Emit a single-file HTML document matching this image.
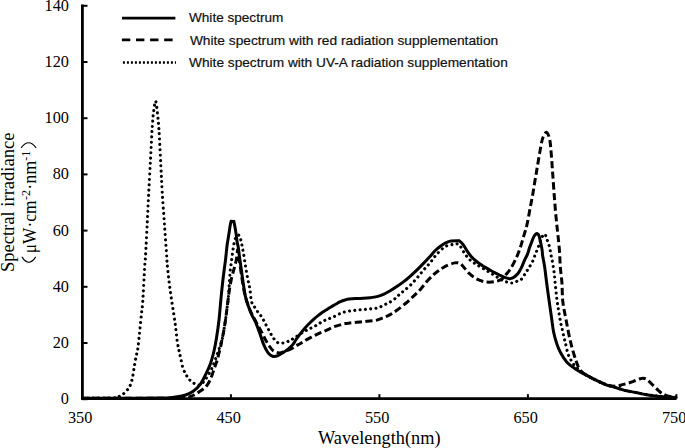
<!DOCTYPE html>
<html><head><meta charset="utf-8"><style>
html,body{margin:0;padding:0;background:#fff;width:685px;height:448px;overflow:hidden}
svg{display:block}
</style></head><body>
<svg width="685" height="448" viewBox="0 0 685 448">
<path d="M82.40,398.20 C88.67,398.20 107.07,398.22 120.00,398.20 C132.93,398.18 151.03,398.25 160.00,398.10 C168.97,397.95 169.65,397.77 173.80,397.30 C177.95,396.83 181.67,396.32 184.90,395.30 C188.13,394.28 190.67,392.98 193.20,391.20 C195.73,389.42 198.03,387.37 200.10,384.60 C202.17,381.83 203.87,378.12 205.60,374.60 C207.33,371.08 209.10,367.43 210.50,363.50 C211.90,359.57 213.00,355.25 214.00,351.00 C215.00,346.75 215.67,343.17 216.50,338.00 C217.33,332.83 218.25,326.62 219.00,320.00 C219.75,313.38 220.33,305.10 221.00,298.30 C221.67,291.50 222.23,285.73 223.00,279.20 C223.77,272.67 224.93,264.63 225.60,259.10 C226.27,253.57 226.58,249.35 227.00,246.00 C227.42,242.65 227.73,241.35 228.10,239.00 C228.47,236.65 228.83,234.28 229.20,231.90 C229.57,229.52 229.97,226.47 230.30,224.70 C230.63,222.93 231.20,221.30 231.20,221.30 C231.20,221.30 233.80,221.50 233.80,221.50 C233.80,221.50 234.40,223.82 234.80,226.00 C235.20,228.18 235.80,231.83 236.20,234.60 C236.60,237.37 236.87,240.57 237.20,242.60 C237.53,244.63 237.82,244.42 238.20,246.80 C238.58,249.18 239.10,253.95 239.50,256.90 C239.90,259.85 240.22,261.78 240.60,264.50 C240.98,267.22 241.30,269.67 241.80,273.20 C242.30,276.73 243.00,281.83 243.60,285.70 C244.20,289.57 244.65,293.12 245.40,296.40 C246.15,299.68 247.07,302.42 248.10,305.40 C249.13,308.38 250.42,311.63 251.60,314.30 C252.78,316.97 254.15,319.08 255.20,321.40 C256.25,323.72 257.05,325.97 257.90,328.20 C258.75,330.43 259.32,332.02 260.30,334.80 C261.28,337.58 262.50,341.90 263.80,344.90 C265.10,347.90 266.65,350.92 268.10,352.80 C269.55,354.68 270.93,355.70 272.50,356.20 C274.07,356.70 275.82,356.35 277.50,355.80 C279.18,355.25 280.90,353.98 282.60,352.90 C284.30,351.82 286.00,350.68 287.70,349.30 C289.40,347.92 291.42,346.22 292.80,344.60 C294.18,342.98 294.80,341.33 296.00,339.60 C297.20,337.87 298.57,336.07 300.00,334.20 C301.43,332.33 303.10,330.15 304.60,328.40 C306.10,326.65 307.50,325.22 309.00,323.70 C310.50,322.18 312.10,320.65 313.60,319.30 C315.10,317.95 316.52,316.77 318.00,315.60 C319.48,314.43 321.00,313.33 322.50,312.30 C324.00,311.27 325.52,310.33 327.00,309.40 C328.48,308.47 329.90,307.60 331.40,306.70 C332.90,305.80 334.50,304.83 336.00,304.00 C337.50,303.17 338.90,302.37 340.40,301.70 C341.90,301.03 343.52,300.45 345.00,300.00 C346.48,299.55 347.35,299.25 349.30,299.00 C351.25,298.75 354.35,298.62 356.70,298.50 C359.05,298.38 361.17,298.43 363.40,298.30 C365.63,298.17 367.87,297.98 370.10,297.70 C372.33,297.42 374.57,297.17 376.80,296.60 C379.03,296.03 381.27,295.27 383.50,294.30 C385.73,293.33 387.98,292.08 390.20,290.80 C392.42,289.52 394.60,288.08 396.80,286.60 C399.00,285.12 401.18,283.62 403.40,281.90 C405.62,280.18 407.87,278.27 410.10,276.30 C412.33,274.33 414.57,272.25 416.80,270.10 C419.03,267.95 421.27,265.70 423.50,263.40 C425.73,261.10 428.28,258.40 430.20,256.30 C432.12,254.20 433.30,252.47 435.00,250.80 C436.70,249.13 438.62,247.62 440.40,246.30 C442.18,244.98 443.92,243.78 445.70,242.90 C447.48,242.02 448.87,241.37 451.10,241.00 C453.33,240.63 459.10,240.70 459.10,240.70 C459.10,240.70 461.85,242.95 463.20,244.70 C464.55,246.45 465.87,249.23 467.20,251.20 C468.53,253.17 469.63,254.78 471.20,256.50 C472.77,258.22 474.82,260.03 476.60,261.50 C478.38,262.97 480.50,264.35 481.90,265.30 C483.30,266.25 483.45,266.28 485.00,267.20 C486.55,268.12 489.25,269.73 491.20,270.80 C493.15,271.87 494.85,272.67 496.70,273.60 C498.55,274.53 500.43,275.60 502.30,276.40 C504.17,277.20 506.50,278.03 507.90,278.40 C509.30,278.77 509.77,278.75 510.70,278.60 C511.63,278.45 512.28,278.35 513.50,277.50 C514.72,276.65 516.70,275.10 518.00,273.50 C519.30,271.90 520.20,270.13 521.30,267.90 C522.40,265.67 523.57,262.40 524.60,260.10 C525.63,257.80 526.70,256.10 527.50,254.10 C528.30,252.10 528.75,250.00 529.40,248.10 C530.05,246.20 530.70,244.52 531.40,242.70 C532.10,240.88 532.92,238.58 533.60,237.20 C534.28,235.82 534.88,235.00 535.50,234.40 C536.12,233.80 536.72,233.37 537.30,233.60 C537.88,233.83 538.43,234.28 539.00,235.80 C539.57,237.32 540.20,240.43 540.70,242.70 C541.20,244.97 541.67,247.18 542.00,249.40 C542.33,251.62 542.27,253.15 542.70,256.00 C543.13,258.85 543.95,262.08 544.60,266.50 C545.25,270.92 545.95,277.50 546.60,282.50 C547.25,287.50 547.68,290.67 548.50,296.50 C549.32,302.33 550.65,311.58 551.50,317.50 C552.35,323.42 552.73,327.68 553.60,332.00 C554.47,336.32 555.53,339.93 556.70,343.40 C557.87,346.87 558.90,349.67 560.60,352.80 C562.30,355.93 564.55,359.60 566.90,362.20 C569.25,364.80 571.85,366.45 574.70,368.40 C577.55,370.35 580.88,372.17 584.00,373.90 C587.12,375.63 589.70,376.98 593.40,378.80 C597.10,380.62 603.03,383.50 606.20,384.80 C609.37,386.10 610.33,385.98 612.40,386.60 C614.47,387.22 616.53,387.87 618.60,388.50 C620.67,389.13 622.73,389.88 624.80,390.40 C626.87,390.92 628.93,391.20 631.00,391.60 C633.07,392.00 635.13,392.38 637.20,392.80 C639.27,393.22 641.33,393.70 643.40,394.10 C645.47,394.50 647.53,394.88 649.60,395.20 C651.67,395.52 653.73,395.75 655.80,396.00 C657.87,396.25 659.93,396.50 662.00,396.70 C664.07,396.90 665.87,397.08 668.20,397.20 C670.53,397.32 674.70,397.37 676.00,397.40" fill="none" stroke="#000" stroke-width="3" stroke-linejoin="miter" stroke-miterlimit="3" stroke-linecap="round"/>
<path d="M82.40,398.20 C95.33,398.20 142.73,398.22 160.00,398.20 C177.27,398.18 181.05,398.33 186.00,398.10 C190.95,397.87 188.38,397.32 189.70,396.80 C191.02,396.28 192.52,395.70 193.90,395.00 C195.28,394.30 196.73,393.38 198.00,392.60 C199.27,391.82 200.33,391.15 201.50,390.30 C202.67,389.45 203.97,388.50 205.00,387.50 C206.03,386.50 206.90,385.47 207.70,384.30 C208.50,383.13 209.10,381.97 209.80,380.50 C210.50,379.03 211.23,377.25 211.90,375.50 C212.57,373.75 213.20,371.75 213.80,370.00 C214.40,368.25 214.90,366.75 215.50,365.00 C216.10,363.25 216.82,361.50 217.40,359.50 C217.98,357.50 218.47,355.08 219.00,353.00 C219.53,350.92 220.13,349.08 220.60,347.00 C221.07,344.92 221.30,343.05 221.80,340.50 C222.30,337.95 223.00,334.98 223.60,331.70 C224.20,328.42 224.87,324.42 225.40,320.80 C225.93,317.18 226.33,313.63 226.80,310.00 C227.27,306.37 227.73,302.58 228.20,299.00 C228.67,295.42 229.02,292.07 229.60,288.50 C230.18,284.93 230.92,281.03 231.70,277.60 C232.48,274.17 233.52,270.92 234.30,267.90 C235.08,264.88 235.85,262.48 236.40,259.50 C236.95,256.52 237.23,251.25 237.60,250.00 C237.97,248.75 238.27,250.00 238.60,252.00 C238.93,254.00 238.62,255.18 239.60,262.00 C240.58,268.82 242.77,284.90 244.50,292.90 C246.23,300.90 248.25,305.48 250.00,310.00 C251.75,314.52 253.47,317.05 255.00,320.00 C256.53,322.95 257.87,325.23 259.20,327.70 C260.53,330.17 261.88,332.65 263.00,334.80 C264.12,336.95 264.80,338.67 265.90,340.60 C267.00,342.53 268.38,344.72 269.60,346.40 C270.82,348.08 271.63,349.62 273.20,350.70 C274.77,351.78 277.07,352.78 279.00,352.90 C280.93,353.02 282.63,352.15 284.80,351.40 C286.97,350.65 289.83,349.48 292.00,348.40 C294.17,347.32 296.25,345.80 297.80,344.90 C299.35,344.00 299.82,343.88 301.30,343.00 C302.78,342.12 304.68,340.73 306.70,339.60 C308.72,338.47 311.17,337.32 313.40,336.20 C315.63,335.08 317.87,333.90 320.10,332.90 C322.33,331.90 324.57,331.20 326.80,330.20 C329.03,329.20 331.27,327.78 333.50,326.90 C335.73,326.02 338.20,325.47 340.20,324.90 C342.20,324.33 343.87,323.82 345.50,323.50 C347.13,323.18 348.13,323.20 350.00,323.00 C351.87,322.80 354.47,322.53 356.70,322.30 C358.93,322.07 361.17,321.83 363.40,321.60 C365.63,321.37 367.87,321.15 370.10,320.90 C372.33,320.65 374.57,320.65 376.80,320.10 C379.03,319.55 381.27,318.52 383.50,317.60 C385.73,316.68 387.97,315.83 390.20,314.60 C392.43,313.37 394.25,312.13 396.90,310.20 C399.55,308.27 403.23,305.43 406.10,303.00 C408.97,300.57 411.65,297.95 414.10,295.60 C416.55,293.25 418.57,291.37 420.80,288.90 C423.03,286.43 425.27,283.27 427.50,280.80 C429.73,278.33 432.18,275.88 434.20,274.10 C436.22,272.32 437.68,271.43 439.60,270.10 C441.52,268.77 443.20,267.30 445.70,266.10 C448.20,264.90 452.22,263.35 454.60,262.90 C456.98,262.45 458.50,262.72 460.00,263.40 C461.50,264.08 462.12,265.37 463.60,267.00 C465.08,268.63 466.82,271.27 468.90,273.20 C470.98,275.13 473.42,277.17 476.10,278.60 C478.78,280.03 482.03,281.27 485.00,281.80 C487.97,282.33 491.22,282.18 493.90,281.80 C496.58,281.42 499.02,280.78 501.10,279.50 C503.18,278.22 504.75,276.02 506.40,274.10 C508.05,272.18 509.38,270.63 511.00,268.00 C512.62,265.37 514.58,261.60 516.10,258.30 C517.62,255.00 518.83,251.88 520.10,248.20 C521.37,244.52 522.53,240.22 523.70,236.20 C524.87,232.18 526.03,228.78 527.10,224.10 C528.17,219.42 529.18,212.90 530.10,208.10 C531.02,203.30 531.92,199.12 532.60,195.30 C533.28,191.48 533.60,188.82 534.20,185.20 C534.80,181.58 535.63,176.95 536.20,173.60 C536.77,170.25 537.03,168.47 537.60,165.10 C538.17,161.73 538.90,157.33 539.60,153.40 C540.30,149.47 541.13,144.40 541.80,141.50 C542.47,138.60 542.80,137.52 543.60,136.00 C544.40,134.48 545.60,131.93 546.60,132.40 C547.60,132.87 548.85,135.50 549.60,138.80 C550.35,142.10 550.58,146.40 551.10,152.20 C551.62,158.00 552.12,165.57 552.70,173.60 C553.28,181.63 553.97,192.35 554.60,200.40 C555.23,208.45 555.93,216.03 556.50,221.90 C557.07,227.77 557.50,230.71 558.00,235.60 C558.50,240.49 559.12,246.03 559.50,251.25 C559.88,256.47 559.90,261.69 560.30,266.90 C560.70,272.11 561.48,276.75 561.90,282.50 C562.32,288.25 562.10,295.15 562.80,301.40 C563.50,307.65 564.82,313.28 566.10,320.00 C567.38,326.72 568.85,334.95 570.50,341.70 C572.15,348.45 574.25,355.62 576.00,360.50 C577.75,365.38 578.08,367.92 581.00,371.00 C583.92,374.08 589.17,376.68 593.50,379.00 C597.83,381.32 603.17,383.70 607.00,384.90 C610.83,386.10 613.92,386.25 616.50,386.20 C619.08,386.15 620.55,385.10 622.50,384.60 C624.45,384.10 626.03,383.88 628.20,383.20 C630.37,382.52 633.53,381.23 635.50,380.50 C637.47,379.77 638.72,379.17 640.00,378.80 C641.28,378.43 642.12,378.22 643.20,378.30 C644.28,378.38 645.43,378.72 646.50,379.30 C647.57,379.88 648.47,380.75 649.60,381.80 C650.73,382.85 651.85,384.17 653.30,385.60 C654.75,387.03 656.85,389.08 658.30,390.40 C659.75,391.72 660.75,392.68 662.00,393.50 C663.25,394.32 664.13,394.75 665.80,395.30 C667.47,395.85 670.30,396.52 672.00,396.80 C673.70,397.08 675.33,396.97 676.00,397.00" fill="none" stroke="#000" stroke-width="3" stroke-dasharray="7.2 3.4" stroke-linejoin="round"/>
<path d="M82.40,398.20 C87.33,398.17 106.23,398.17 112.00,398.00 C117.77,397.83 115.40,397.67 117.00,397.20 C118.60,396.73 120.07,396.22 121.60,395.20 C123.13,394.18 124.87,392.53 126.20,391.10 C127.53,389.67 128.58,388.68 129.60,386.60 C130.62,384.52 131.53,381.83 132.30,378.60 C133.07,375.37 133.58,370.82 134.20,367.20 C134.82,363.58 135.43,359.75 136.00,356.90 C136.57,354.05 137.15,352.75 137.60,350.10 C138.05,347.45 138.32,344.42 138.70,341.00 C139.08,337.58 139.43,334.15 139.90,329.60 C140.37,325.05 141.02,318.45 141.50,313.70 C141.98,308.95 142.27,308.90 142.80,301.10 C143.33,293.30 144.23,274.58 144.70,266.90 C145.17,259.22 145.18,262.18 145.60,255.00 C146.02,247.82 146.67,234.22 147.20,223.80 C147.72,213.38 148.20,203.13 148.75,192.50 C149.30,181.87 149.99,169.67 150.50,160.00 C151.01,150.33 151.47,140.52 151.80,134.50 C152.13,128.48 152.23,127.42 152.50,123.90 C152.77,120.38 152.88,117.18 153.40,113.40 C153.92,109.62 154.90,101.00 155.60,101.20 C156.30,101.40 157.10,110.62 157.60,114.60 C158.10,118.58 158.32,121.57 158.60,125.10 C158.88,128.63 158.93,129.15 159.30,135.80 C159.67,142.45 160.32,155.55 160.80,165.00 C161.28,174.45 161.60,182.70 162.20,192.50 C162.80,202.30 163.67,213.38 164.40,223.80 C165.13,234.22 166.08,247.72 166.60,255.00 C167.12,262.28 166.88,261.45 167.50,267.50 C168.12,273.55 169.05,282.13 170.30,291.30 C171.55,300.47 173.83,314.10 175.00,322.50 C176.17,330.90 176.57,336.72 177.30,341.70 C178.03,346.68 178.83,349.68 179.40,352.40 C179.97,355.12 180.13,355.45 180.70,358.00 C181.27,360.55 181.92,364.95 182.80,367.70 C183.68,370.45 185.05,372.70 186.00,374.50 C186.95,376.30 187.58,377.33 188.50,378.50 C189.42,379.67 190.33,380.58 191.50,381.50 C192.67,382.42 194.08,383.45 195.50,384.00 C196.92,384.55 198.42,385.47 200.00,384.80 C201.58,384.13 203.00,382.80 205.00,380.00 C207.00,377.20 209.83,372.67 212.00,368.00 C214.17,363.33 216.37,356.58 218.00,352.00 C219.63,347.42 220.87,343.88 221.80,340.50 C222.73,337.12 223.00,334.98 223.60,331.70 C224.20,328.42 224.87,324.42 225.40,320.80 C225.93,317.18 226.33,313.63 226.80,310.00 C227.27,306.37 227.83,302.50 228.20,299.00 C228.57,295.50 228.77,292.25 229.00,289.00 C229.23,285.75 229.38,282.67 229.60,279.50 C229.82,276.33 230.00,272.92 230.30,270.00 C230.60,267.08 231.05,264.67 231.40,262.00 C231.75,259.33 231.97,257.07 232.40,254.00 C232.83,250.93 233.47,246.27 234.00,243.60 C234.53,240.93 235.00,239.40 235.60,238.00 C236.20,236.60 236.88,235.40 237.60,235.20 C238.32,235.00 239.05,234.52 239.90,236.80 C240.75,239.08 241.83,244.47 242.70,248.90 C243.57,253.33 244.30,258.58 245.10,263.40 C245.90,268.22 246.70,273.52 247.50,277.80 C248.30,282.08 249.23,285.15 249.90,289.10 C250.57,293.05 250.73,298.52 251.50,301.50 C252.27,304.48 253.50,305.33 254.50,307.00 C255.50,308.67 256.53,310.17 257.50,311.50 C258.47,312.83 259.35,313.67 260.30,315.00 C261.25,316.33 262.28,317.92 263.20,319.50 C264.12,321.08 264.92,322.83 265.80,324.50 C266.68,326.17 267.60,327.83 268.50,329.50 C269.40,331.17 270.20,332.83 271.20,334.50 C272.20,336.17 273.32,338.12 274.50,339.50 C275.68,340.88 276.83,342.23 278.30,342.80 C279.77,343.37 281.62,343.15 283.30,342.90 C284.98,342.65 286.70,342.05 288.40,341.30 C290.10,340.55 290.90,340.02 293.50,338.40 C296.10,336.78 301.13,333.30 304.00,331.60 C306.87,329.90 308.68,329.22 310.70,328.20 C312.72,327.18 314.32,326.50 316.10,325.50 C317.88,324.50 319.62,323.20 321.40,322.20 C323.18,321.20 325.00,320.28 326.80,319.50 C328.60,318.72 330.18,318.40 332.20,317.50 C334.22,316.60 336.90,315.00 338.90,314.10 C340.90,313.20 342.35,312.63 344.20,312.10 C346.05,311.57 348.13,311.20 350.00,310.90 C351.87,310.60 353.62,310.50 355.40,310.30 C357.18,310.10 358.92,309.87 360.70,309.70 C362.48,309.53 364.32,309.45 366.10,309.30 C367.88,309.15 369.62,309.00 371.40,308.80 C373.18,308.60 375.00,308.57 376.80,308.10 C378.60,307.63 380.52,306.75 382.20,306.00 C383.88,305.25 385.45,304.35 386.90,303.60 C388.35,302.85 389.45,302.40 390.90,301.50 C392.35,300.60 394.27,299.28 395.60,298.20 C396.93,297.12 397.60,296.17 398.90,295.00 C400.20,293.83 401.53,292.78 403.40,291.20 C405.27,289.62 407.87,287.67 410.10,285.50 C412.33,283.33 414.57,280.77 416.80,278.20 C419.03,275.63 421.27,272.68 423.50,270.10 C425.73,267.52 427.97,265.38 430.20,262.70 C432.43,260.02 434.32,256.72 436.90,254.00 C439.48,251.28 442.75,248.02 445.70,246.40 C448.65,244.78 452.37,244.60 454.60,244.30 C456.83,244.00 457.60,243.35 459.10,244.60 C460.60,245.85 461.97,249.42 463.60,251.80 C465.23,254.18 466.82,256.82 468.90,258.90 C470.98,260.98 473.42,262.52 476.10,264.30 C478.78,266.08 482.03,267.82 485.00,269.60 C487.97,271.38 490.92,273.20 493.90,275.00 C496.88,276.80 500.07,279.07 502.90,280.40 C505.73,281.73 508.53,282.85 510.90,283.00 C513.27,283.15 515.38,281.90 517.10,281.30 C518.83,280.70 520.05,280.45 521.25,279.40 C522.45,278.35 523.26,276.57 524.30,275.00 C525.34,273.43 526.18,272.13 527.50,270.00 C528.82,267.87 530.90,264.80 532.20,262.20 C533.50,259.60 534.27,257.00 535.30,254.40 C536.33,251.80 537.37,249.33 538.40,246.60 C539.43,243.87 540.45,240.10 541.50,238.00 C542.55,235.90 543.78,233.75 544.70,234.00 C545.62,234.25 546.22,237.40 547.00,239.50 C547.78,241.60 548.75,244.12 549.40,246.60 C550.05,249.08 550.38,251.80 550.90,254.40 C551.42,257.00 551.98,259.33 552.50,262.20 C553.02,265.07 553.62,268.73 554.00,271.60 C554.38,274.47 554.38,275.33 554.80,279.40 C555.22,283.47 555.88,290.90 556.50,296.00 C557.12,301.10 557.82,305.62 558.50,310.00 C559.18,314.38 559.95,318.97 560.60,322.30 C561.25,325.63 561.83,327.47 562.40,330.00 C562.97,332.53 563.48,335.25 564.00,337.50 C564.52,339.75 564.88,340.95 565.50,343.50 C566.12,346.05 566.95,350.33 567.70,352.80 C568.45,355.27 569.10,356.52 570.00,358.30 C570.90,360.08 571.85,361.80 573.10,363.50 C574.35,365.20 575.68,366.77 577.50,368.50 C579.32,370.23 581.35,372.18 584.00,373.90 C586.65,375.62 589.70,376.98 593.40,378.80 C597.10,380.62 603.03,383.50 606.20,384.80 C609.37,386.10 610.33,385.98 612.40,386.60 C614.47,387.22 616.53,387.87 618.60,388.50 C620.67,389.13 622.73,389.88 624.80,390.40 C626.87,390.92 628.93,391.20 631.00,391.60 C633.07,392.00 635.13,392.38 637.20,392.80 C639.27,393.22 641.33,393.70 643.40,394.10 C645.47,394.50 647.53,394.88 649.60,395.20 C651.67,395.52 653.73,395.75 655.80,396.00 C657.87,396.25 659.93,396.50 662.00,396.70 C664.07,396.90 665.87,397.08 668.20,397.20 C670.53,397.32 674.70,397.37 676.00,397.40" fill="none" stroke="#000" stroke-width="3.1" stroke-dasharray="0.01 5.3" stroke-linecap="round"/>
<path d="M82.4,4.6 V398.6 H676.6" fill="none" stroke="#000" stroke-width="2.8" stroke-linejoin="round"/>
<line x1="82.4" y1="399.20" x2="87.5" y2="399.20" stroke="#000" stroke-width="2"/>
<line x1="82.4" y1="343.00" x2="87.5" y2="343.00" stroke="#000" stroke-width="2"/>
<line x1="82.4" y1="286.80" x2="87.5" y2="286.80" stroke="#000" stroke-width="2"/>
<line x1="82.4" y1="230.60" x2="87.5" y2="230.60" stroke="#000" stroke-width="2"/>
<line x1="82.4" y1="174.40" x2="87.5" y2="174.40" stroke="#000" stroke-width="2"/>
<line x1="82.4" y1="118.20" x2="87.5" y2="118.20" stroke="#000" stroke-width="2"/>
<line x1="82.4" y1="62.00" x2="87.5" y2="62.00" stroke="#000" stroke-width="2"/>
<line x1="82.4" y1="5.80" x2="87.5" y2="5.80" stroke="#000" stroke-width="2"/>
<line x1="230.90" y1="398.6" x2="230.90" y2="394.2" stroke="#000" stroke-width="2"/>
<line x1="379.40" y1="398.6" x2="379.40" y2="394.2" stroke="#000" stroke-width="2"/>
<line x1="527.90" y1="398.6" x2="527.90" y2="394.2" stroke="#000" stroke-width="2"/>
<line x1="676.40" y1="398.6" x2="676.40" y2="394.2" stroke="#000" stroke-width="2"/>
<text x="69" y="404.20" text-anchor="end" font-family="'Liberation Serif', serif" font-size="16.3">0</text>
<text x="69" y="348.00" text-anchor="end" font-family="'Liberation Serif', serif" font-size="16.3">20</text>
<text x="69" y="291.80" text-anchor="end" font-family="'Liberation Serif', serif" font-size="16.3">40</text>
<text x="69" y="235.60" text-anchor="end" font-family="'Liberation Serif', serif" font-size="16.3">60</text>
<text x="69" y="179.40" text-anchor="end" font-family="'Liberation Serif', serif" font-size="16.3">80</text>
<text x="69" y="123.20" text-anchor="end" font-family="'Liberation Serif', serif" font-size="16.3">100</text>
<text x="69" y="67.00" text-anchor="end" font-family="'Liberation Serif', serif" font-size="16.3">120</text>
<text x="69" y="10.80" text-anchor="end" font-family="'Liberation Serif', serif" font-size="16.3">140</text>
<text x="80.10" y="423.2" text-anchor="middle" font-family="'Liberation Serif', serif" font-size="16.3">350</text>
<text x="228.60" y="423.2" text-anchor="middle" font-family="'Liberation Serif', serif" font-size="16.3">450</text>
<text x="377.10" y="423.2" text-anchor="middle" font-family="'Liberation Serif', serif" font-size="16.3">550</text>
<text x="525.60" y="423.2" text-anchor="middle" font-family="'Liberation Serif', serif" font-size="16.3">650</text>
<text x="674.10" y="423.2" text-anchor="middle" font-family="'Liberation Serif', serif" font-size="16.3">750</text>
<text x="318" y="443.8" font-family="'Liberation Serif', serif" font-size="18.5" textLength="122.5" lengthAdjust="spacingAndGlyphs">Wavelength(nm)</text>
<text transform="translate(13.5,272.1) rotate(-90)" x="0" y="0" font-family="'Liberation Serif', serif" font-size="19" textLength="139.6" lengthAdjust="spacingAndGlyphs">Spectral irradiance</text>
<g transform="translate(35.6,0) rotate(-90)">
<text x="-253.2" y="0" font-family="'Liberation Serif', serif" font-size="19" textLength="52.6" lengthAdjust="spacingAndGlyphs">μW·cm</text>
<text x="-199.9" y="-5.7" font-family="'Liberation Serif', serif" font-size="12" textLength="9.9" lengthAdjust="spacingAndGlyphs">-2</text>
<text x="-189.8" y="0" font-family="'Liberation Serif', serif" font-size="19" textLength="29.2" lengthAdjust="spacingAndGlyphs">·nm</text>
<text x="-160.8" y="-5.7" font-family="'Liberation Serif', serif" font-size="12" textLength="9.9" lengthAdjust="spacingAndGlyphs">-1</text>
</g>
<path d="M21.9,256.9 Q28.8,267.7 35.7,256.9" fill="none" stroke="#000" stroke-width="1.1"/>
<path d="M21.1,147.9 Q28.6,137.7 36.1,147.9" fill="none" stroke="#000" stroke-width="1.1"/>
<line x1="122" y1="18.1" x2="175.4" y2="18.1" stroke="#000" stroke-width="2.7"/>
<line x1="121.9" y1="39.9" x2="173" y2="39.9" stroke="#000" stroke-width="2.7" stroke-dasharray="8.4 5.7"/>
<line x1="122.9" y1="62.5" x2="176" y2="62.5" stroke="#000" stroke-width="2.7" stroke-dasharray="2 2"/>
<text x="189" y="22.1" font-family="'Liberation Sans', sans-serif" font-size="13.1" fill="#111" stroke="#111" stroke-width="0.2" textLength="94.3" lengthAdjust="spacingAndGlyphs">White spectrum</text>
<text x="189.9" y="45.2" font-family="'Liberation Sans', sans-serif" font-size="13.1" fill="#111" stroke="#111" stroke-width="0.2" textLength="308.3" lengthAdjust="spacingAndGlyphs">White spectrum with red radiation supplementation</text>
<text x="189" y="67.4" font-family="'Liberation Sans', sans-serif" font-size="13.1" fill="#111" stroke="#111" stroke-width="0.2" textLength="318.8" lengthAdjust="spacingAndGlyphs">White spectrum with UV-A radiation supplementation</text>
</svg>
</body></html>
